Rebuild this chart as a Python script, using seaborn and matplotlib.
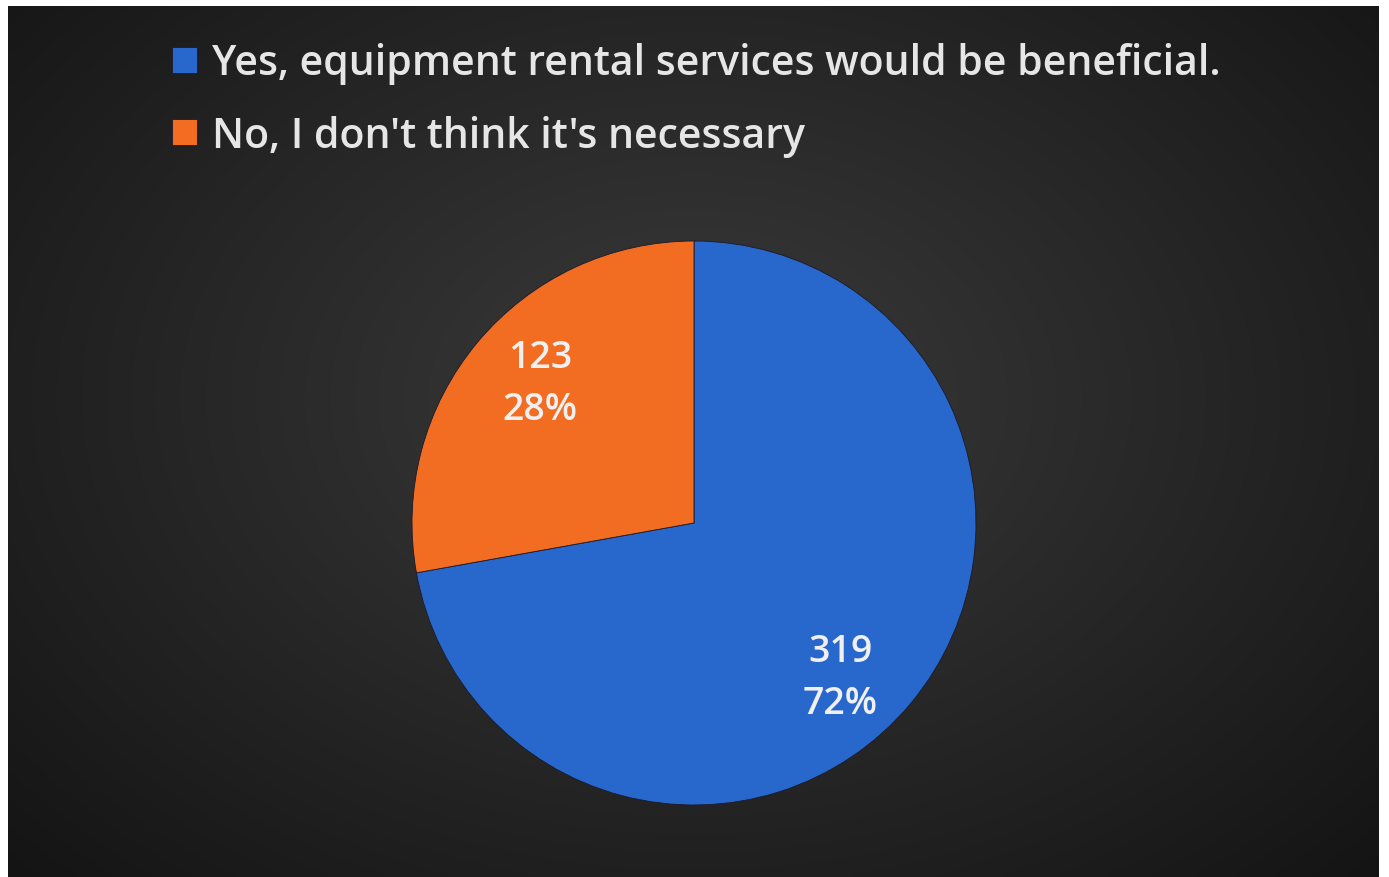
import numpy as np
import matplotlib
matplotlib.use("Agg")
import matplotlib.pyplot as plt
import seaborn as sns

# survey answers
answers = ["Yes, equipment rental services would be beneficial.",
           "No, I don't think it's necessary"]
counts = [319, 123]
percents = ["72%", "28%"]
colors = ["#2867cc", "#f26d22"]

sns.set_theme(style="dark")
plt.rcParams["font.family"] = ["Open Sans", "DejaVu Sans"]

fig = plt.figure(figsize=(13.89, 8.78), dpi=100, facecolor="white")

# dark background panel with soft vignette
bg = fig.add_axes([8 / 1389, 0, (1379 - 8) / 1389, (878 - 7) / 878])
yy, xx = np.mgrid[-1:1:200j, -1:1:300j]
rr = np.sqrt((xx * 0.9) ** 2 + ((yy + 0.1) * 0.8) ** 2)
shade = np.clip(0.23 - 0.12 * rr, 0.08, 0.25)
bg.imshow(np.dstack([shade, shade, shade * 1.02]).clip(0, 1),
          aspect="auto", extent=[0, 1, 0, 1], interpolation="bicubic")
bg.set_axis_off()

# pie axes: centre (694, 524) px, radius 282 px
r = 282
ax = fig.add_axes([(694 - r) / 1389, (878 - 524 - r) / 878, 2 * r / 1389, 2 * r / 878])
wedges, _ = ax.pie(counts, colors=colors, startangle=90, counterclock=False,
                   radius=1, wedgeprops=dict(linewidth=0.6, edgecolor="#1a1a2a"))
ax.set_xlim(-1, 1)
ax.set_ylim(-1, 1)
ax.set_axis_off()

# data labels, nudged a little like the original
total = sum(counts)
start = 90
nudge = [-6, -3]
for c, p, dn in zip(counts, percents, nudge):
    span = c / total * 360
    mid = np.deg2rad(start - span / 2 + dn)
    start -= span
    x, y = 0.745 * np.cos(mid), 0.745 * np.sin(mid) - 0.01
    ax.text(x, y + 0.092, str(c), ha="center", va="center", color="#f0f0f0",
            fontsize=27, fontweight="semibold")
    ax.text(x, y - 0.092, p, ha="center", va="center", color="#f0f0f0",
            fontsize=27, fontweight="semibold")

leg = fig.legend(wedges, answers, loc="upper left",
                 bbox_to_anchor=(172 / 1389, 1 - 43 / 878),
                 frameon=False, borderpad=0, borderaxespad=0,
                 prop=dict(size=29.5, weight="semibold"), labelcolor="#e6e6e6",
                 handlelength=0.6, handleheight=0.6, handletextpad=0.38,
                 labelspacing=0.75)

fig.savefig("out.png", dpi=100, facecolor="white")
